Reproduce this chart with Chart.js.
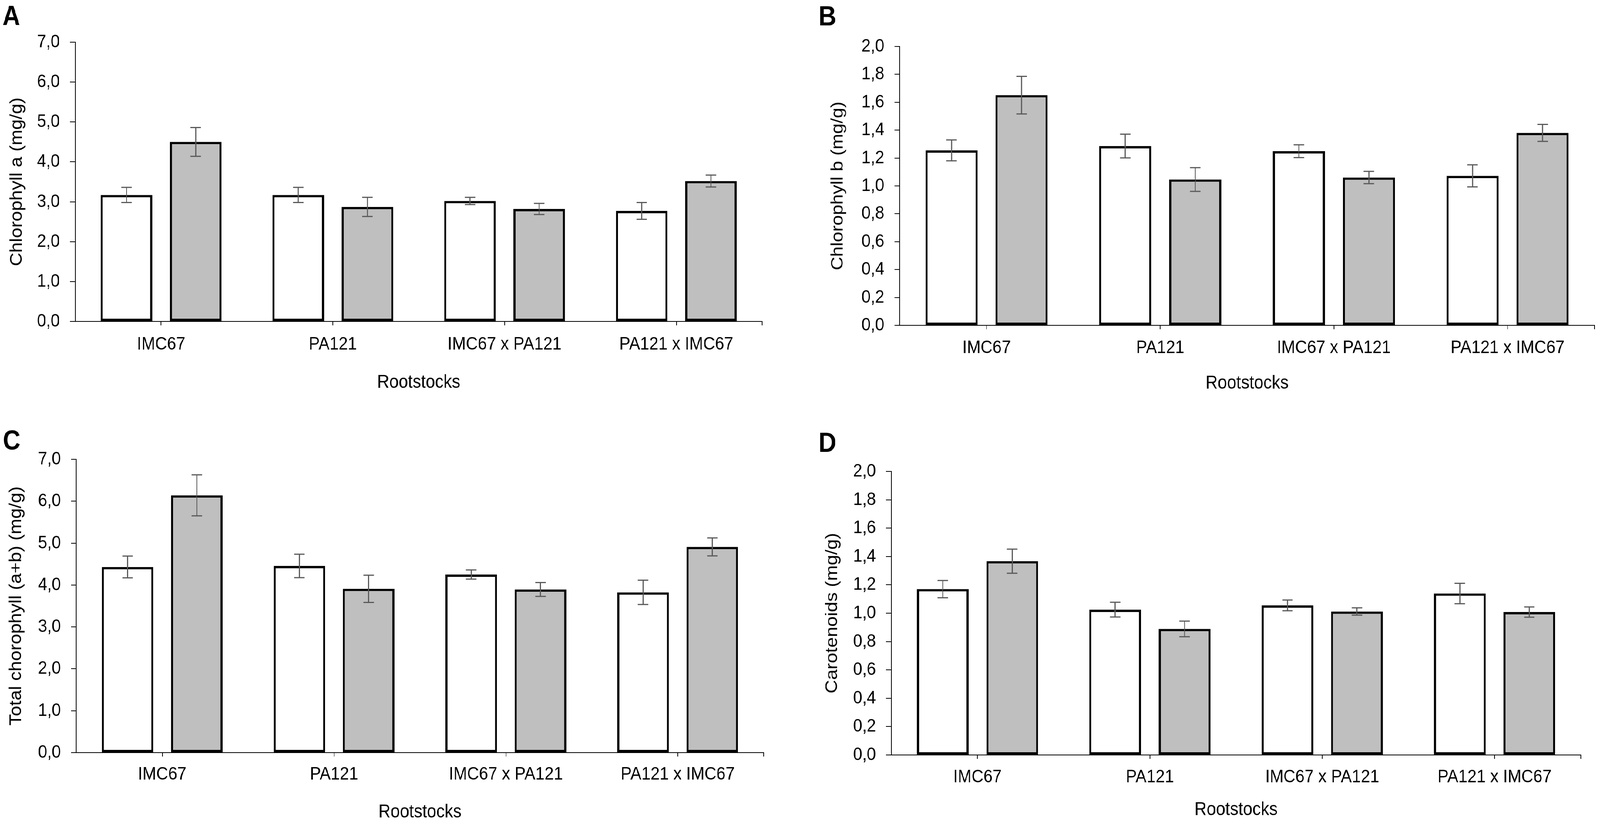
<!DOCTYPE html>
<html>
<head>
<meta charset="utf-8">
<script src="https://cdn.jsdelivr.net/npm/chart.js@4.4.1/dist/chart.umd.min.js"></script>
<style>
  html, body { margin: 0; padding: 0; background: #fff; overflow: hidden; }
  #wrap { position: absolute; left: 0; top: 0; width: 4572px; height: 2120px; transform-origin: 0 0; }
  .panel { position: absolute; width: 2286px; height: 1060px; }
</style>
</head>
<body>
<div id="wrap">
  <div class="panel" style="left:0;top:0"><canvas id="chartA" width="2286" height="1060"></canvas></div>
  <div class="panel" style="left:2286px;top:0"><canvas id="chartB" width="2286" height="1060"></canvas></div>
  <div class="panel" style="left:0;top:1060px"><canvas id="chartC" width="2286" height="1060"></canvas></div>
  <div class="panel" style="left:2286px;top:1060px"><canvas id="chartD" width="2286" height="1060"></canvas></div>
</div>
<script>
// === Data ===
const categories = ["IMC67", "PA121", "IMC67 x PA121", "PA121 x IMC67"];

// A: chlorophyll a
const chlAWhite = [3.17, 3.17, 3.02, 2.77];
const chlAWhiteErr = [0.19, 0.19, 0.09, 0.21];
const chlAGrey = [4.50, 2.87, 2.82, 3.52];
const chlAGreyErr = [0.36, 0.24, 0.14, 0.15];

// B: chlorophyll b
const chlBWhite = [1.255, 1.286, 1.249, 1.072];
const chlBWhiteErr = [0.075, 0.085, 0.046, 0.079];
const chlBGrey = [1.651, 1.046, 1.060, 1.380];
const chlBGreyErr = [0.135, 0.085, 0.044, 0.061];

// C: total chlorophyll
const totalWhite = [4.43, 4.455, 4.25, 3.825];
const totalWhiteErr = [0.26, 0.28, 0.11, 0.29];
const totalGrey = [6.14, 3.91, 3.894, 4.91];
const totalGreyErr = [0.49, 0.325, 0.165, 0.215];

// D: carotenoids
const caroWhite = [1.170, 1.025, 1.055, 1.139];
const caroWhiteErr = [0.061, 0.052, 0.038, 0.072];
const caroGrey = [1.367, 0.889, 1.012, 1.008];
const caroGreyErr = [0.085, 0.055, 0.026, 0.036];

// === Stretch the 4572x2120 layout over the whole viewport ===
const wrap = document.getElementById("wrap");
const scaleX = window.innerWidth / 4572;
const scaleY = window.innerHeight / 2120;
wrap.style.transform = "scale(" + scaleX + "," + scaleY + ")";

Chart.defaults.font.family = "'Liberation Sans', Arial, sans-serif";
Chart.defaults.color = "#000";

// === Error bars, end tick on x axis and panel letter ===
const panelExtras = {
  id: "panelExtras",
  afterDatasetsDraw(chart) {
    const ctx = chart.ctx;
    const y = chart.scales.y;
    ctx.save();
    ctx.strokeStyle = "#595959";
    ctx.lineWidth = 3;
    chart.data.datasets.forEach((ds, di) => {
      chart.getDatasetMeta(di).data.forEach((bar, i) => {
        const top = y.getPixelForValue(ds.data[i] + ds.errors[i]);
        const bot = y.getPixelForValue(ds.data[i] - ds.errors[i]);
        ctx.beginPath();
        ctx.moveTo(bar.x, top); ctx.lineTo(bar.x, bot);
        ctx.moveTo(bar.x - 15, top); ctx.lineTo(bar.x + 15, top);
        ctx.moveTo(bar.x - 15, bot); ctx.lineTo(bar.x + 15, bot);
        ctx.stroke();
      });
    });
    ctx.restore();
  },
  afterDraw(chart, args, opts) {
    const ctx = chart.ctx;
    const x = chart.scales.x;
    ctx.save();
    ctx.strokeStyle = "#000";
    ctx.lineWidth = 2;
    ctx.beginPath();
    ctx.moveTo(x.right, x.top);
    ctx.lineTo(x.right, x.top + 10);
    ctx.stroke();
    ctx.fillStyle = "#000";
    ctx.font = "bold 70px 'Liberation Sans', Arial, sans-serif";
    ctx.textBaseline = "alphabetic";
    ctx.fillText(opts.letter, opts.lx, opts.ly);
    ctx.restore();
  }
};

function makePanel(id, p) {
  const barStyle = {
    borderColor: "#000",
    borderWidth: 6,
    borderSkipped: false,
    categoryPercentage: 0.806,
    barPercentage: 0.745
  };
  return new Chart(document.getElementById(id), {
    type: "bar",
    data: {
      labels: categories,
      datasets: [
        Object.assign({ label: "White", data: p.white, errors: p.whiteErr, backgroundColor: "#ffffff" }, barStyle),
        Object.assign({ label: "Grey", data: p.grey, errors: p.greyErr, backgroundColor: "#bfbfbf" }, barStyle)
      ]
    },
    options: {
      responsive: false,
      animation: false,
      devicePixelRatio: 1,
      layout: { padding: p.pad },
      plugins: {
        legend: { display: false },
        tooltip: { enabled: false },
        panelExtras: { letter: p.letter, lx: p.lx, ly: p.ly }
      },
      scales: {
        x: {
          grid: { offset: false, drawOnChartArea: false, drawTicks: true, tickLength: 10, color: "#000", lineWidth: 2 },
          border: { color: "#000", width: 2 },
          ticks: { color: "#000", font: { size: 47 }, padding: p.xTickPad, maxRotation: 0, autoSkip: false },
          title: { display: true, text: "Rootstocks", color: "#000", font: { size: 48 }, padding: { top: 0, bottom: p.xTitlePad } },
          afterFit: s => { s.height = p.xH; }
        },
        y: {
          min: 0,
          max: p.yMax,
          ticks: {
            stepSize: p.yStep,
            color: "#000",
            font: { size: 47 },
            padding: 29,
            callback: v => v.toFixed(1).replace(".", ",")
          },
          grid: { drawOnChartArea: false, drawTicks: true, tickLength: 15, color: "#000", lineWidth: 2 },
          border: { color: "#000", width: 2 },
          title: { display: true, text: p.yTitle, color: "#000", font: { size: 48 }, padding: { top: p.yTitlePad, bottom: 0 } },
          afterFit: s => { s.width = p.yW; }
        }
      }
    },
    plugins: [panelExtras]
  });
}

makePanel("chartA", {
  white: chlAWhite, whiteErr: chlAWhiteErr, grey: chlAGrey, greyErr: chlAGreyErr,
  yMax: 7, yStep: 1, yTitle: "Chlorophyll a (mg/g)",
  pad: { left: 0, right: 108, top: 108, bottom: 0 }, yW: 215, xH: 237,
  yTitlePad: 20, xTickPad: 21, xTitlePad: 51,
  letter: "A", lx: 7, ly: 64
});

makePanel("chartB", {
  white: chlBWhite, whiteErr: chlBWhiteErr, grey: chlBGrey, greyErr: chlBGreyErr,
  yMax: 2, yStep: 0.2, yTitle: "Chlorophyll b (mg/g)",
  pad: { left: 0, right: 16, top: 119, bottom: 0 }, yW: 285, xH: 227,
  yTitlePad: 80, xTickPad: 20, xTitlePad: 49,
  letter: "B", lx: 53, ly: 65
});

makePanel("chartC", {
  white: totalWhite, whiteErr: totalWhiteErr, grey: totalGrey, greyErr: totalGreyErr,
  yMax: 7, yStep: 1, yTitle: "Total chorophyll (a+b) (mg/g)",
  pad: { left: 0, right: 104, top: 116, bottom: 0 }, yW: 218, xH: 193,
  yTitlePad: 18, xTickPad: 18, xTitlePad: 11,
  letter: "C", lx: 8, ly: 91
});

makePanel("chartD", {
  white: caroWhite, whiteErr: caroWhiteErr, grey: caroGrey, greyErr: caroGreyErr,
  yMax: 2, yStep: 0.2, yTitle: "Carotenoids (mg/g)",
  pad: { left: 0, right: 55, top: 147, bottom: 0 }, yW: 261, xH: 187,
  yTitlePad: 64, xTickPad: 19, xTitlePad: 17,
  letter: "D", lx: 53, ly: 97
});
</script>
</body>
</html>
